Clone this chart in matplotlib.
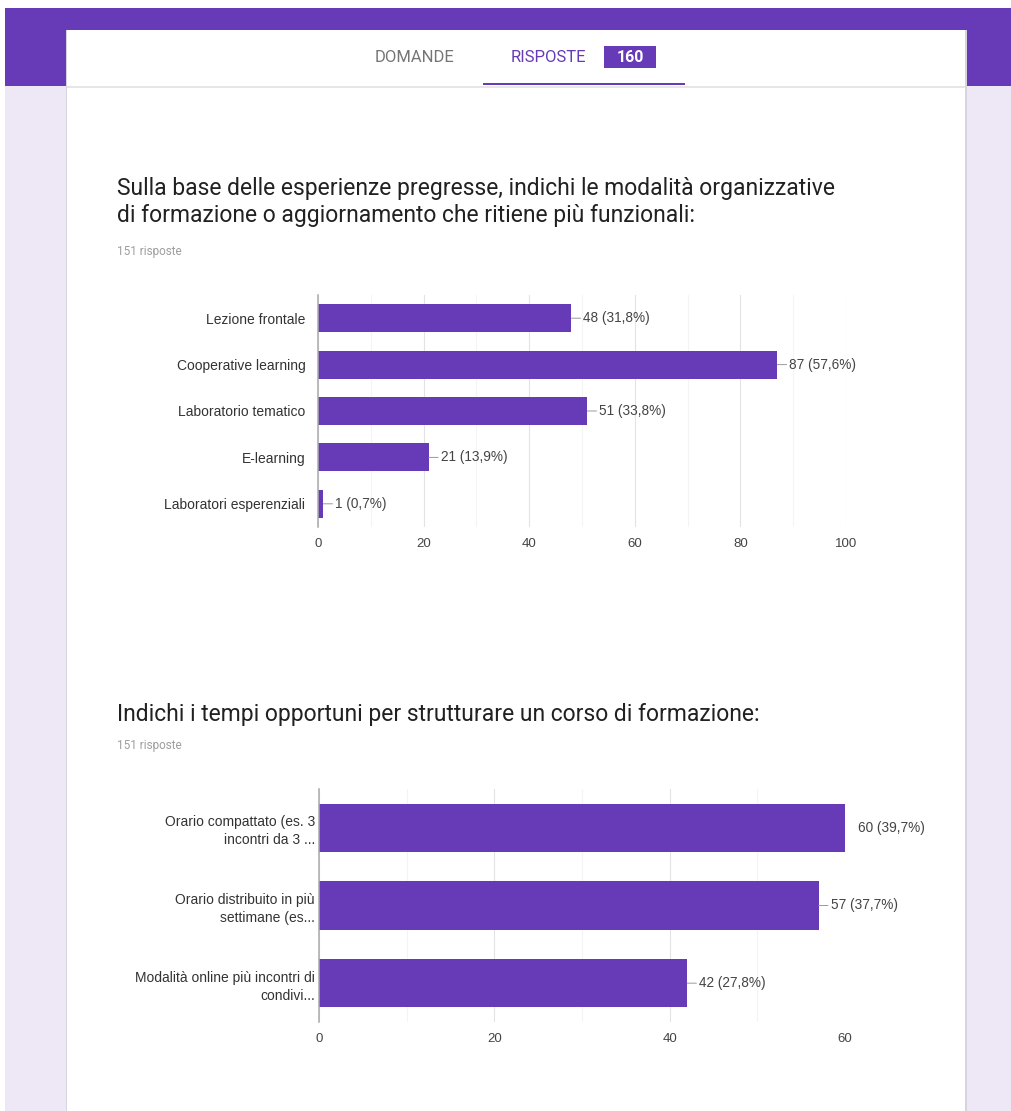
import matplotlib.pyplot as plt
from matplotlib.patches import Rectangle

W, H = 1011, 1111
PURPLE = "#673ab7"

# data
q1_title = ("Sulla base delle esperienze pregresse, indichi le modalità organizzative\n"
            "di formazione o aggiornamento che ritiene più funzionali:")
q1_labels = ["Lezione frontale", "Cooperative learning", "Laboratorio tematico",
             "E-learning", "Laboratori esperenziali"]
q1_counts = [48, 87, 51, 21, 1]
q1_pct = ["31,8%", "57,6%", "33,8%", "13,9%", "0,7%"]
q1_ticks = [0, 20, 40, 60, 80, 100]

q2_title = "Indichi i tempi opportuni per strutturare un corso di formazione:"
q2_labels = ["Orario compattato (es. 3\nincontri da 3 ...",
             "Orario distribuito in più\nsettimane (es...",
             "Modalità online più incontri di\ncondivi..."]
q2_counts = [60, 57, 42]
q2_pct = ["39,7%", "37,7%", "27,8%"]
q2_ticks = [0, 20, 40, 60]

n_responses = "151 risposte"
total = "160"

plt.rcParams["font.family"] = ["Liberation Sans", "DejaVu Sans"]

fig = plt.figure(figsize=(W / 100, H / 100), dpi=100)
fig.patch.set_facecolor("white")


def px(x, y):
    return x / W, 1 - y / H


def rect(x, y, w, h, z=-5, **kw):
    fig.patches.append(Rectangle(px(x, y + h), w / W, h / H,
                                 transform=fig.transFigure, zorder=z, **kw))


# page background
rect(5, 86, W - 5, H - 86, facecolor="#ede7f6", edgecolor="none", z=-10)
rect(5, 8, W - 5, 78, facecolor=PURPLE, edgecolor="none", z=-10)
rect(66, 30, 901, H - 30, facecolor="#d8d4de", edgecolor="none", z=-9)
rect(67, 30, 898, H - 30, facecolor="white", edgecolor="none", z=-8)
rect(67, 86, 898, 2, facecolor="#e6e6e6", edgecolor="none", z=-7)
rect(483, 83, 202, 2, facecolor=PURPLE, edgecolor="none", z=-6)
rect(604, 46, 52, 22, facecolor=PURPLE, edgecolor="none", z=-6)

fig.text(*px(415, 57), "DOMANDE", fontsize=12, color="#757575", family="Roboto",
         ha="center", va="center")
fig.text(*px(548, 57), "RISPOSTE", fontsize=12, color=PURPLE, family="Roboto",
         ha="center", va="center")
fig.text(*px(630, 57), total, fontsize=11.5, color="white", family="Roboto",
         weight="bold", ha="center", va="center")


def chart(box, labels, counts, pct, ticks, bar_h, pad):
    ax = fig.add_axes([box[0] / W, 1 - box[3] / H, (box[2] - box[0]) / W, (box[3] - box[1]) / H])
    ax.set_facecolor("none")
    pos = list(range(len(labels)))
    ax.barh(pos, counts, height=bar_h, color=PURPLE, zorder=3)
    xmax = ticks[-1]
    ax.set_xlim(0, xmax)
    ax.set_ylim(len(labels) - 0.5, -0.5)
    ax.set_xticks(ticks)
    ax.set_xticks(range(10, xmax, 20), minor=True)
    ax.set_yticks(pos)
    ax.set_yticklabels(labels, ha="right", multialignment="right", linespacing=1.35)
    ax.tick_params(axis="y", length=0, pad=pad, labelsize=10, labelcolor="#333333")
    ax.tick_params(axis="x", which="both", length=0, pad=8, labelsize=9.5, labelcolor="#444444")
    ax.grid(axis="x", which="major", color="#e3e3e3", lw=0.8, zorder=0)
    ax.grid(axis="x", which="minor", color="#f4f4f4", lw=0.8, zorder=0)
    for s in ["top", "right", "bottom"]:
        ax.spines[s].set_visible(False)
    ax.spines["left"].set_color("#aaaaaa")
    ax.spines["left"].set_linewidth(1.1)
    ax.spines["left"].set_zorder(4)
    for i, (c, p) in enumerate(zip(counts, pct)):
        txt = f"{c} ({p})"
        if c >= xmax:
            ax.annotate(txt, xy=(c, i), xytext=(13, 0), textcoords="offset pixels",
                        va="center", fontsize=9.8, color="#444444", annotation_clip=False)
        else:
            ax.annotate(txt, xy=(c, i), xytext=(12, 0), textcoords="offset pixels",
                        va="center", fontsize=9.8, color="#444444",
                        arrowprops=dict(arrowstyle="-", color="#999999", lw=0.7,
                                        shrinkA=0, shrinkB=0))
    return ax


# question 1
fig.text(*px(117, 202), q1_title, fontsize=16.5, family="Roboto", color="#212121",
         va="center", ha="left", linespacing=1.2)
fig.text(*px(117, 251), n_responses, fontsize=8.5, family="Roboto", color="#9e9e9e",
         va="center")
chart((318, 295, 846, 527), q1_labels, q1_counts, q1_pct, q1_ticks, 0.6, 9)

# question 2
fig.text(*px(117, 715), q2_title, fontsize=16.5, family="Roboto", color="#212121",
         va="center", ha="left")
fig.text(*px(117, 745), n_responses, fontsize=8.5, family="Roboto", color="#9e9e9e",
         va="center")
chart((319, 789, 845, 1022), q2_labels, q2_counts, q2_pct, q2_ticks, 0.62, 3)

fig.savefig("out.png", dpi=100)
